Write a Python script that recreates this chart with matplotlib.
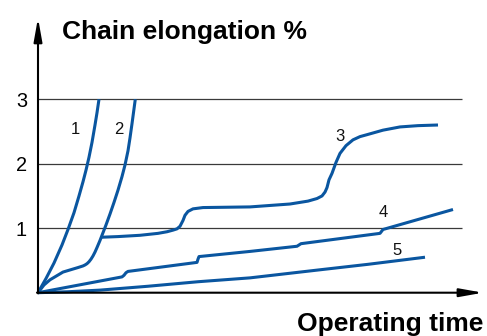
import matplotlib
matplotlib.use("Agg")
import matplotlib.pyplot as plt

plt.rcParams['font.family'] = ['Liberation Sans', 'DejaVu Sans']

# ---- data (x: operating time, arbitrary units; y: elongation %) ----
c1_x = [0, 8, 16, 24, 30, 36, 41, 45, 48, 51, 54, 57, 59, 61]
c1_y = [0, 0.22, 0.46, 0.74, 0.98, 1.24, 1.5, 1.72, 1.9, 2.1, 2.33, 2.6, 2.79, 3.0]

c2_x = [0, 6, 12, 25, 40, 45, 47, 49, 51, 53, 55, 57, 59, 62, 65, 68, 72, 76, 80,
        84, 87, 90, 92, 94, 96, 97.3]
c2_y = [0, 0.12, 0.2, 0.32, 0.39, 0.415, 0.43, 0.45, 0.48, 0.52, 0.57, 0.63, 0.70, 0.81,
        0.93, 1.05, 1.22, 1.4, 1.59, 1.8, 1.98, 2.2, 2.4, 2.62, 2.85, 3.0]

c3_x = [63.5, 80, 102, 120, 129, 135, 139, 142, 145, 147, 150, 155, 165, 212, 252,
        270, 279, 284, 287, 289, 291, 294, 298, 302, 308, 315, 322, 329, 345, 362, 380, 400]
c3_y = [0.86, 0.87, 0.89, 0.92, 0.945, 0.97, 0.99, 1.03, 1.12, 1.2, 1.26, 1.3, 1.32, 1.33, 1.375,
        1.42, 1.46, 1.5, 1.56, 1.63, 1.75, 1.85, 2.02, 2.16, 2.28, 2.37, 2.42, 2.45, 2.52, 2.57, 2.59, 2.6]

c4_x = [0, 84, 86, 88, 90, 159, 160, 161, 212, 259, 261, 263, 342, 345, 415]
c4_y = [0, 0.245, 0.27, 0.31, 0.33, 0.47, 0.52, 0.56, 0.64, 0.72, 0.74, 0.76, 0.92, 0.98, 1.29]

c5_x = [0, 30, 62, 110, 160, 212, 279, 330, 387]
c5_y = [0, 0.015, 0.04, 0.1, 0.17, 0.23, 0.35, 0.44, 0.55]

curve_labels = ['1', '2', '3', '4', '5']
label_x = [37, 80.5, 302, 345, 358.7]
label_y = [2.46, 2.46, 2.357, 1.167, 0.585]

y_ticks = [1, 2, 3]
y_ticklabels = ['1', '2', '3']
title = 'Chain elongation %'
xlabel = 'Operating time'

BLUE = '#0a56a0'

W, H = 487, 336
fig = plt.figure(figsize=(W / 100, H / 100), dpi=100)
PX_PER_Y = 64.5
ax = fig.add_axes([38 / W, 43.3 / H, 446 / W, 4.3 * PX_PER_Y / H])
ax.set_xlim(0, 446)
ax.set_ylim(0, 4.3)
for s in ax.spines.values():
    s.set_visible(False)
ax.set_xticks([])
ax.set_yticks(y_ticks)
ax.set_yticklabels(y_ticklabels, fontsize=14.4)
ax.tick_params(axis='y', length=0, pad=7.9)

# grid lines
ax.hlines(y_ticks, 0, 424, colors='#3a3a3a', lw=0.9, zorder=1)

# curves
for xs, ys in [(c1_x, c1_y), (c2_x, c2_y), (c3_x, c3_y), (c4_x, c4_y), (c5_x, c5_y)]:
    ax.plot(xs, ys, color=BLUE, lw=2.2, solid_joinstyle='round', solid_capstyle='butt',
            zorder=3, clip_on=False)

for t, x, y in zip(curve_labels, label_x, label_y):
    ax.text(x, y, t, fontsize=12, ha='center', va='baseline', color='#111111')

# axes arrows
arr = dict(arrowstyle='-|>,head_length=1.4,head_width=0.25', mutation_scale=10,
           lw=1.5, color='black', shrinkA=0, shrinkB=0)
ax.annotate('', xy=(445, 0), xytext=(-1, 0), arrowprops=arr, annotation_clip=False, zorder=4)
ax.annotate('', xy=(0, 4.26), xytext=(0, -0.01), arrowprops=arr, annotation_clip=False, zorder=4)

fig.text(62 / W, 1 - 38.5 / H, title, fontsize=19, fontweight='bold', ha='left', va='baseline')
fig.text(483 / W, 1 - 331 / H, xlabel, fontsize=19, fontweight='bold', ha='right', va='baseline')

fig.savefig('out.png', dpi=100)
